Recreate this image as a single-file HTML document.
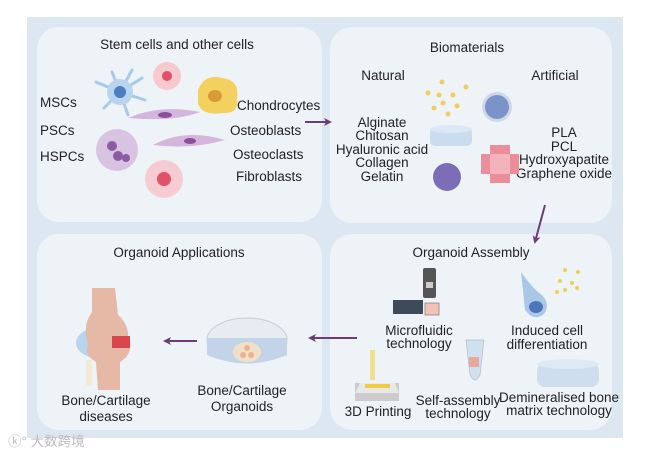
<!DOCTYPE html>
<html><head><meta charset="utf-8"><style>
body{margin:0;background:#fff;}
svg{display:block;font-family:"Liberation Sans",Arial,sans-serif;}
text{fill:#222;font-size:13.5px;}
</style></head><body>
<svg width="650" height="453" viewBox="0 0 650 453" xmlns="http://www.w3.org/2000/svg">
<defs>
<marker id="ah" markerWidth="8" markerHeight="8" refX="6" refY="4" orient="auto" markerUnits="userSpaceOnUse"><path d="M0,0 L8,4 L0,8 L2,4 Z" fill="#6b3d78"/></marker>
</defs>
<rect x="27" y="17" width="596" height="421" fill="#dce7f1"/>
<rect x="37" y="27" width="285" height="195" rx="22" fill="#eef3f8"/>
<rect x="330" y="27" width="282" height="196" rx="22" fill="#eef3f8"/>
<rect x="37" y="234" width="285" height="196" rx="22" fill="#eef3f8"/>
<rect x="330" y="234" width="282" height="196" rx="22" fill="#eef3f8"/>

<!-- panel 1 -->
<text x="177" y="49" text-anchor="middle">Stem cells and other cells</text>
<text x="40" y="107">MSCs</text>
<text x="40" y="135">PSCs</text>
<text x="40" y="161">HSPCs</text>
<text x="237" y="110">Chondrocytes</text>
<text x="230" y="135">Osteoblasts</text>
<text x="233" y="159">Osteoclasts</text>
<text x="236" y="181">Fibroblasts</text>
<g stroke="#a9c9e8" stroke-width="3" stroke-linecap="round">
<line x1="120" y1="92" x2="96" y2="82"/><line x1="120" y1="92" x2="104" y2="108"/><line x1="120" y1="92" x2="132" y2="70"/><line x1="120" y1="92" x2="142" y2="78"/><line x1="120" y1="92" x2="145" y2="100"/><line x1="120" y1="92" x2="128" y2="115"/><line x1="120" y1="92" x2="112" y2="72"/>
</g>
<circle cx="120" cy="92" r="13" fill="#b8d4ee"/><circle cx="120" cy="92" r="6" fill="#4d7cc0"/>
<circle cx="167" cy="76" r="14" fill="#f6c9cf"/><circle cx="167" cy="76" r="5" fill="#e0506a"/>
<circle cx="164" cy="179" r="19" fill="#f7cbd2"/><circle cx="164" cy="179" r="7" fill="#e2516a"/>
<path d="M198,90 Q205,73 222,78 Q240,80 237,98 Q240,114 222,113 Q203,116 198,104 Z" fill="#f4d060"/>
<ellipse cx="215" cy="96" rx="7" ry="6" fill="#d99a3c"/>
<path d="M128,118 Q160,104 200,112 Q175,122 128,118Z" fill="#d4b6dc"/><ellipse cx="165" cy="115" rx="7" ry="3" fill="#8d4f9c"/>
<path d="M153,145 Q185,128 225,140 Q190,150 153,145Z" fill="#d4b6dc"/><ellipse cx="190" cy="141" rx="6" ry="3" fill="#8d4f9c"/>
<circle cx="117" cy="150" r="21" fill="#d9c3e3"/><circle cx="112" cy="146" r="5" fill="#8c5ca3"/><circle cx="118" cy="156" r="5" fill="#8c5ca3"/><circle cx="126" cy="158" r="4" fill="#8c5ca3"/>
<line x1="305" y1="122" x2="330" y2="122" stroke="#6b3d78" stroke-width="2" marker-end="url(#ah)"/>

<!-- panel 2 -->
<text x="467" y="52" text-anchor="middle">Biomaterials</text>
<text x="383" y="80" text-anchor="middle">Natural</text>
<text x="555" y="80" text-anchor="middle">Artificial</text>
<g text-anchor="middle">
<text x="382" y="127">Alginate</text><text x="382" y="140">Chitosan</text><text x="382" y="154">Hyaluronic acid</text><text x="382" y="167">Collagen</text><text x="382" y="181">Gelatin</text>
<text x="564" y="137">PLA</text><text x="564" y="151">PCL</text><text x="564" y="164">Hydroxyapatite</text><text x="564" y="178">Graphene oxide</text>
</g>
<g fill="#f1cd5a"><circle cx="442" cy="82" r="2.5"/><circle cx="428" cy="93" r="2.5"/><circle cx="439" cy="95" r="2.5"/><circle cx="453" cy="95" r="2.5"/><circle cx="466" cy="87" r="2.5"/><circle cx="443" cy="103" r="2.5"/><circle cx="457" cy="106" r="2.5"/><circle cx="434" cy="108" r="2.5"/><circle cx="448" cy="114" r="2.5"/></g>
<circle cx="497" cy="107" r="15" fill="#d0d8e6"/><circle cx="497" cy="107" r="12" fill="#7a93c8"/>
<rect x="430" y="128" width="42" height="18" rx="5" fill="#c9ddef"/><ellipse cx="451" cy="129" rx="21" ry="4" fill="#dce9f5"/>
<circle cx="447" cy="177" r="14" fill="#7d6cb7"/>
<g fill="#ec8e9a"><rect x="490" y="145" width="20" height="38"/><rect x="481" y="154" width="38" height="20"/></g>
<rect x="490" y="154" width="20" height="20" fill="#f4b3bb"/>
<line x1="545" y1="205" x2="535" y2="242" stroke="#6b3d78" stroke-width="2" marker-end="url(#ah)"/>

<!-- panel 4 -->
<text x="471" y="257" text-anchor="middle">Organoid Assembly</text>
<rect x="423" y="268" width="13" height="30" rx="2" fill="#555"/><rect x="426" y="282" width="7" height="6" fill="#ccc"/>
<rect x="393" y="300" width="30" height="14" fill="#3e4a5a"/><rect x="425" y="303" width="14" height="12" fill="#f3c2b5" stroke="#777" stroke-width=".7"/>
<text x="419" y="335" text-anchor="middle" font-size="11">Microfluidic</text>
<text x="419" y="348" text-anchor="middle" font-size="11">technology</text>
<path d="M521,272 Q530,285 538,292 Q552,302 544,314 Q534,322 525,310 Q524,300 521,272Z" fill="#a9c8e8"/><ellipse cx="536" cy="307" rx="7" ry="6" fill="#4d76ba"/>
<g fill="#f1cd5a"><circle cx="565" cy="270" r="2"/><circle cx="578" cy="272" r="2"/><circle cx="560" cy="281" r="2"/><circle cx="572" cy="283" r="2"/><circle cx="565" cy="290" r="2"/><circle cx="577" cy="288" r="2"/><circle cx="557" cy="292" r="2"/></g>
<text x="547" y="335" text-anchor="middle" font-size="11">Induced cell</text>
<text x="547" y="349" text-anchor="middle" font-size="11">differentiation</text>
<path d="M466,340 L484,340 L480,375 Q475,385 470,375 Z" fill="#cfe0f1" stroke="#bbb" stroke-width=".7"/><rect x="469" y="357" width="10" height="10" fill="#e9a89c"/>
<rect x="537" y="363" width="62" height="24" rx="8" fill="#cfdeee"/><ellipse cx="568" cy="364" rx="31" ry="5" fill="#dfe9f4"/>
<rect x="370" y="350" width="5" height="30" fill="#f1df90"/><rect x="355" y="383" width="44" height="18" fill="#ccc"/><path d="M360,383 L395,383 L399,393 L355,393Z" fill="#e8e8e8"/><rect x="365" y="384" width="25" height="4" fill="#f1cc40"/>
<text x="378" y="416" text-anchor="middle" font-size="11">3D Printing</text>
<text x="458" y="405" text-anchor="middle" font-size="11">Self-assembly</text>
<text x="458" y="418" text-anchor="middle" font-size="11">technology</text>
<text x="559" y="402" text-anchor="middle" font-size="11">Demineralised bone</text>
<text x="559" y="415" text-anchor="middle" font-size="11">matrix technology</text>
<line x1="357" y1="338" x2="310" y2="338" stroke="#6b3d78" stroke-width="2" marker-end="url(#ah)"/>

<!-- panel 3 -->
<text x="179" y="257" text-anchor="middle">Organoid Applications</text>
<ellipse cx="247" cy="340" rx="40" ry="22" fill="#e7ecf3" stroke="#ccc"/>
<path d="M207,338 L207,355 Q247,372 287,355 L287,338 Z" fill="#c3d4e8"/>
<ellipse cx="247" cy="352" rx="14" ry="10" fill="#f1e0c8"/><circle cx="247" cy="348" r="3" fill="#f0b090"/><circle cx="243" cy="355" r="3" fill="#f0b090"/><circle cx="251" cy="355" r="3" fill="#f0b090"/>
<text x="242" y="395" text-anchor="middle">Bone/Cartilage</text>
<text x="242" y="411" text-anchor="middle">Organoids</text>
<line x1="197" y1="341" x2="165" y2="341" stroke="#6b3d78" stroke-width="2" marker-end="url(#ah)"/>
<ellipse cx="102" cy="343" rx="26" ry="16" fill="#b9d4ee"/>
<path d="M92,288 L115,288 L118,315 Q130,325 128,342 L88,345 Q82,325 92,312 Z" fill="#e6b9a6"/>
<path d="M88,345 L130,342 Q132,355 120,362 L120,390 L98,390 L96,362 Q84,355 88,345Z" fill="#e6b9a6"/>
<rect x="112" y="336" width="18" height="12" fill="#d8454a"/>
<rect x="86" y="360" width="6" height="26" fill="#f2ead6"/>
<text x="106" y="405" text-anchor="middle">Bone/Cartilage</text>
<text x="106" y="421" text-anchor="middle">diseases</text>
<text x="8" y="446" font-size="11" style="fill:#bbb">ⓚ° 大数跨境</text>
</svg>
</body></html>
